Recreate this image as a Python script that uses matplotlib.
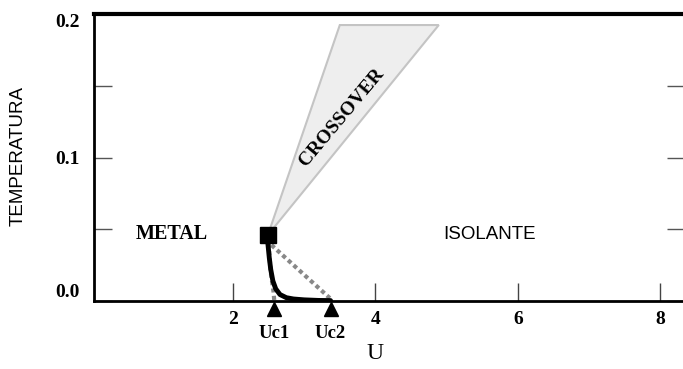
import matplotlib
matplotlib.use("Agg")
import matplotlib.pyplot as plt
from matplotlib.patches import Polygon

# critical point and the two critical interactions
crit_u, crit_t = 2.49, 0.046
uc_vals = [2.58, 3.37]
uc_labels = ["Uc1", "Uc2"]

# first-order transition line (solid)
line_u = [2.49, 2.51, 2.53, 2.56, 2.60, 2.66, 2.75, 2.85, 3.00, 3.20, 3.37]
line_t = [0.040, 0.030, 0.022, 0.014, 0.0085, 0.0045, 0.0023, 0.0014, 0.0008, 0.0004, 0.0003]

# spinodal lines (dotted)
spin2_u = [2.54, 3.36]
spin2_t = [0.039, 0.002]
spin1_u = [2.50, 2.53, 2.57, 2.58]
spin1_t = [0.040, 0.020, 0.006, 0.0]

# crossover wedge corners
wedge_u = [crit_u, 3.50, 4.89]
wedge_t = [crit_t, 0.1923, 0.1923]

serif = "Liberation Serif"
sans = "Liberation Sans"

fig = plt.figure(figsize=(6.83, 3.69), dpi=100)
ax = fig.add_axes([94 / 683, 68 / 369, 591 / 683, 287 / 369])
ax.set_xlim(0.048, 8.348)
ax.set_ylim(0.0, 0.2)

# crossover region
ax.add_patch(Polygon(list(zip(wedge_u, wedge_t)), closed=True,
                     facecolor="#eeeeee", edgecolor="#c4c4c4", lw=1.5, zorder=1))
ax.text(3.53, 0.128, "CROSSOVER", rotation=50, ha="center", va="center",
        fontfamily=serif, fontweight="bold", fontsize=14, zorder=3)

ax.plot(spin1_u, spin1_t, color="#888888", lw=3, ls=(0, (1, 0.8)), zorder=2)
ax.plot(spin2_u, spin2_t, color="#888888", lw=3, ls=(0, (1, 0.8)), zorder=2)
ax.plot(line_u, line_t, color="black", lw=3.5, solid_capstyle="round", zorder=3)
ax.plot([crit_u], [crit_t], marker="s", ms=12, color="black", zorder=4)

# critical U markers below the axis
ax.plot(uc_vals, [-0.0058] * len(uc_vals), ls="none", marker="^", ms=9.5,
        color="black", clip_on=False, zorder=5)
for u, lab in zip(uc_vals, uc_labels):
    ax.text(u, -0.0225, lab, ha="center", va="center", fontfamily=serif,
            fontweight="bold", fontsize=13.5, clip_on=False)

ax.text(1.14, 0.047, "METAL", ha="center", va="center", fontfamily=serif,
        fontweight="bold", fontsize=14.5)
ax.text(5.6, 0.046, "ISOLANTE", ha="center", va="center", fontfamily=sans,
        fontsize=13.5)

# spines and ticks
ax.spines["right"].set_visible(False)
for side in ["left", "bottom"]:
    ax.spines[side].set_linewidth(2)
ax.spines["top"].set_linewidth(3)

ax.set_xticks([2, 4, 6, 8])
ax.set_xticklabels(["2", "4", "6", "8"], fontfamily=serif, fontweight="bold", fontsize=14)
ax.set_yticks([0.0, 0.05, 0.1, 0.15, 0.2])
ax.set_yticklabels(["0.0", "", "0.1", "", "0.2"], fontfamily=serif, fontweight="bold", fontsize=14)
ax.tick_params(axis="x", direction="in", length=13, width=1, color="#444444", pad=7)
ax.tick_params(axis="y", direction="in", length=13, width=1, color="#555555", pad=10,
               right=True)
ylabs = ax.get_yticklabels()
ylabs[0].set_va("bottom")
ylabs[-1].set_va("top")

ax.set_xlabel("U", fontfamily=serif, fontsize=17)
ax.xaxis.set_label_coords((375 - 94) / 591, -(343 - 301) / 287)
ax.set_ylabel("TEMPERATURA", fontfamily=sans, fontsize=13.5)
ax.yaxis.set_label_coords(-(94 - 27) / 591, (301 - 156) / 287)

fig.savefig("out.png", dpi=100)
